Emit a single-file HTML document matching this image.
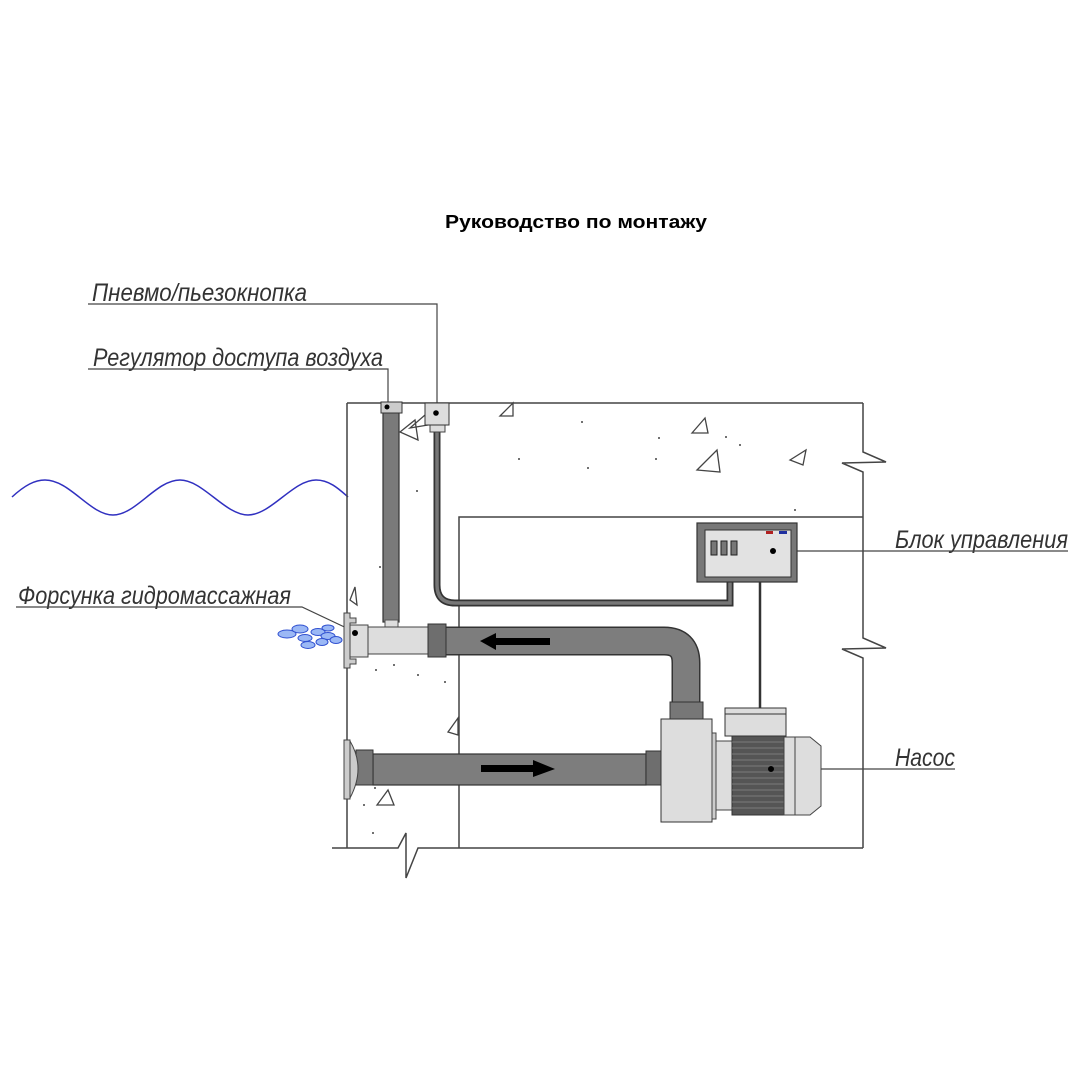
<!DOCTYPE html>
<html><head><meta charset="utf-8"><style>
html,body{margin:0;padding:0;background:#fff;}
svg{display:block;}
.lbl{font-family:"Liberation Sans Narrow","Liberation Sans",sans-serif;font-style:italic;font-size:25px;fill:#333;}
</style></head><body>
<svg width="1080" height="1080" viewBox="0 0 1080 1080" xmlns="http://www.w3.org/2000/svg">
<rect width="1080" height="1080" fill="#fff"/>
<text x="576" y="228" text-anchor="middle" font-family="Liberation Sans, sans-serif" font-weight="bold" font-size="18" fill="#000" textLength="262" lengthAdjust="spacingAndGlyphs">Руководство по монтажу</text>

<!-- labels -->
<text class="lbl" x="92" y="301" textLength="215" lengthAdjust="spacingAndGlyphs">Пневмо/пьезокнопка</text>
<polyline points="88,304 437,304 437,405" fill="none" stroke="#444" stroke-width="1.2"/>
<text class="lbl" x="93" y="366" textLength="290" lengthAdjust="spacingAndGlyphs">Регулятор доступа воздуха</text>
<polyline points="88,369 388,369 388,403" fill="none" stroke="#444" stroke-width="1.2"/>
<text class="lbl" x="18" y="604" textLength="273" lengthAdjust="spacingAndGlyphs">Форсунка гидромассажная</text>
<polyline points="16,607 302,607 355,632" fill="none" stroke="#444" stroke-width="1.2"/>
<text class="lbl" x="895" y="548" textLength="173" lengthAdjust="spacingAndGlyphs">Блок управления</text>
<line x1="773" y1="551" x2="1068" y2="551" stroke="#444" stroke-width="1.2"/>
<text class="lbl" x="895" y="766" textLength="60" lengthAdjust="spacingAndGlyphs">Насос</text>
<line x1="771" y1="769" x2="955" y2="769" stroke="#444" stroke-width="1.2"/>

<!-- wave -->
<path d="M12,497 C25,485 35,480 45,480 C70,480 90,515 113,515 C136,515 156,480 180,480 C203,480 225,515 248,515 C271,515 293,480 316,480 C330,480 340,490 348,497" fill="none" stroke="#3030c0" stroke-width="1.5"/>

<!-- walls -->
<g fill="none" stroke="#444" stroke-width="1.5">
<line x1="347" y1="403" x2="347" y2="848"/>
<line x1="347" y1="403" x2="863" y2="403"/>
<polyline points="863,403 863,452 886,462 842,463 863,472 863,638 886,648 842,649 863,658 863,848"/>
<polyline points="459,848 459,517 863,517"/>
<polyline points="332,848 398,848 406,833 406,878 418,848 863,848"/>
</g>
<!-- concrete triangles and dots -->
<g fill="none" stroke="#444" stroke-width="1.3">
<polygon points="500,416 513,403 513,416"/>
<polygon points="692,433 705,418 708,433"/>
<polygon points="697,470 717,450 720,472"/>
<polygon points="790,460 806,450 803,465"/>
<polygon points="400,432 415,420 418,440"/>
<polygon points="410,428 425,415 428,425"/>
<polygon points="350,600 355,587 357,605"/>
<polygon points="448,732 458,718 458,735"/>
<polygon points="377,805 388,790 394,805"/>
</g>
<g fill="#444">
<circle cx="582" cy="422" r="1"/><circle cx="519" cy="459" r="1"/><circle cx="588" cy="468" r="1"/>
<circle cx="659" cy="438" r="1"/><circle cx="656" cy="459" r="1"/><circle cx="726" cy="437" r="1"/>
<circle cx="740" cy="445" r="1"/><circle cx="398" cy="490" r="1"/><circle cx="417" cy="491" r="1"/>
<circle cx="380" cy="567" r="1"/><circle cx="376" cy="670" r="1"/><circle cx="394" cy="665" r="1"/>
<circle cx="418" cy="675" r="1"/><circle cx="445" cy="682" r="1"/><circle cx="373" cy="833" r="1"/>
<circle cx="375" cy="788" r="1"/><circle cx="364" cy="805" r="1"/><circle cx="795" cy="510" r="1"/>
</g>

<!-- air pipe -->
<rect x="383" y="405" width="16" height="217" fill="#7a7a7a" stroke="#333" stroke-width="1.2"/>
<rect x="385" y="620" width="13" height="8" fill="#ddd" stroke="#555"/>
<rect x="381" y="402" width="21" height="11" fill="#ccc" stroke="#333"/>
<circle cx="387" cy="407" r="2.5" fill="#000"/>

<!-- button -->
<path d="M437,430 V585 Q437,603 455,603 H730 V582" fill="none" stroke="#333" stroke-width="7"/>
<path d="M437,430 V585 Q437,603 455,603 H730 V582" fill="none" stroke="#777" stroke-width="3.5"/>
<rect x="430" y="424" width="15" height="8" fill="#ddd" stroke="#444"/>
<rect x="425" y="403" width="24" height="22" fill="#ddd" stroke="#333"/>
<circle cx="436" cy="413" r="2.8" fill="#000"/>

<!-- control box -->
<rect x="697" y="523" width="100" height="59" fill="#777" stroke="#333" stroke-width="1.2"/>
<rect x="705" y="530" width="86" height="47" fill="#e2e2e2" stroke="#333"/>
<rect x="711" y="541" width="6" height="14" fill="#777" stroke="#222"/>
<rect x="721" y="541" width="6" height="14" fill="#777" stroke="#222"/>
<rect x="731" y="541" width="6" height="14" fill="#777" stroke="#222"/>
<rect x="766" y="531" width="7" height="3" fill="#b02020"/>
<rect x="779" y="531" width="8" height="3" fill="#2030a0"/>
<circle cx="773" cy="551" r="3" fill="#000"/>
<line x1="760" y1="582" x2="760" y2="709" stroke="#333" stroke-width="2.5"/>

<!-- pressure pipe with elbow -->
<path d="M445,641 H664 Q686,641 686,663 V704" fill="none" stroke="#333" stroke-width="29"/>
<path d="M445,641 H664 Q686,641 686,663 V704" fill="none" stroke="#7d7d7d" stroke-width="26"/>
<rect x="670" y="702" width="33" height="17" fill="#777" stroke="#333"/>
<rect x="368" y="627" width="60" height="27" fill="#ddd" stroke="#444"/>
<rect x="428" y="624" width="18" height="33" fill="#6e6e6e" stroke="#333"/>
<rect x="350" y="625" width="18" height="32" fill="#ddd" stroke="#444"/>
<path d="M344,613 H350 V618 H356 V623 H350 V659 H356 V664 H350 V668 H344 Z" fill="#ccc" stroke="#444"/>
<circle cx="355" cy="633" r="3" fill="#000"/>
<path d="M480,641 L496,633 V638 H550 V645 H496 V650 Z" fill="#000"/>
<!-- bubbles -->
<g fill="#9bb8f5" stroke="#3050d0" stroke-width="1">
<ellipse cx="287" cy="634" rx="9" ry="4"/><ellipse cx="300" cy="629" rx="8" ry="4"/>
<ellipse cx="318" cy="632" rx="7" ry="3.5"/><ellipse cx="305" cy="638" rx="7" ry="3.5"/>
<ellipse cx="328" cy="636" rx="7" ry="3.5"/><ellipse cx="308" cy="645" rx="7" ry="3.5"/>
<ellipse cx="322" cy="642" rx="6" ry="3.5"/><ellipse cx="336" cy="640" rx="6" ry="3.5"/>
<ellipse cx="328" cy="628" rx="6" ry="3"/>
</g>

<!-- suction pipe -->
<rect x="373" y="754" width="273" height="31" fill="#7d7d7d" stroke="#333" stroke-width="1.2"/>
<rect x="356" y="750" width="17" height="35" fill="#777" stroke="#333"/>
<path d="M350,741 Q366,768 350,798 Z" fill="#ccc" stroke="#444"/>
<rect x="344" y="740" width="6" height="59" fill="#ccc" stroke="#444"/>
<rect x="646" y="751" width="15" height="34" fill="#6e6e6e" stroke="#333"/>
<path d="M481,769 L481,765 H533 V760 L555,769 L533,777 V772 H481 Z" fill="#000"/>

<!-- pump -->
<rect x="661" y="719" width="51" height="103" fill="#ddd" stroke="#333"/>
<rect x="712" y="733" width="4" height="86" fill="#ccc" stroke="#444"/>
<rect x="716" y="741" width="16" height="69" fill="#ddd" stroke="#444"/>
<rect x="725" y="708" width="61" height="28" fill="#ddd" stroke="#333"/>
<line x1="725" y1="714" x2="786" y2="714" stroke="#333"/>
<rect x="732" y="736" width="52" height="79" fill="#555" stroke="#333"/>
<g stroke="#888" stroke-width="0.8">
<line x1="732" y1="742" x2="784" y2="742"/><line x1="732" y1="748" x2="784" y2="748"/>
<line x1="732" y1="754" x2="784" y2="754"/><line x1="732" y1="760" x2="784" y2="760"/>
<line x1="732" y1="766" x2="784" y2="766"/><line x1="732" y1="772" x2="784" y2="772"/>
<line x1="732" y1="778" x2="784" y2="778"/><line x1="732" y1="784" x2="784" y2="784"/>
<line x1="732" y1="790" x2="784" y2="790"/><line x1="732" y1="796" x2="784" y2="796"/>
<line x1="732" y1="802" x2="784" y2="802"/><line x1="732" y1="808" x2="784" y2="808"/>
</g>
<rect x="784" y="737" width="11" height="78" fill="#ddd" stroke="#444"/>
<path d="M795,737 H810 L821,746 V806 L810,815 H795 Z" fill="#ddd" stroke="#444"/>
<circle cx="771" cy="769" r="3" fill="#000"/>
</svg>
</body></html>
